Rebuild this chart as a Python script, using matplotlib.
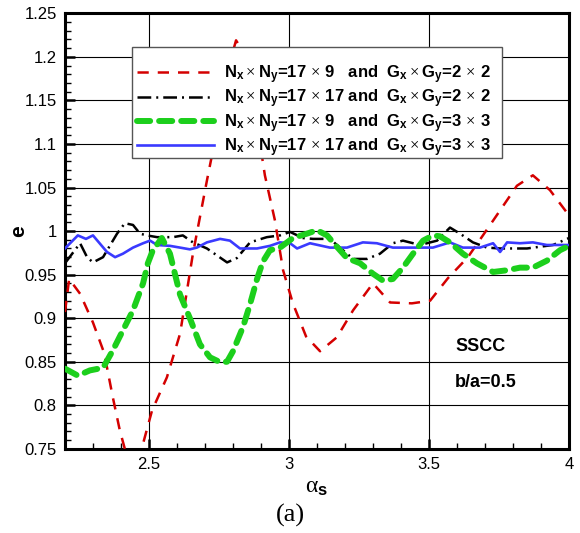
import matplotlib
matplotlib.use("Agg")
import matplotlib.pyplot as plt
from matplotlib.patches import Rectangle
from matplotlib.ticker import MultipleLocator, FormatStrFormatter

plt.rcParams['font.family'] = ['Liberation Sans', 'DejaVu Sans']
plt.rcParams['mathtext.fontset'] = 'custom'
plt.rcParams['mathtext.rm'] = 'Liberation Serif'
plt.rcParams['mathtext.bf'] = 'Liberation Sans:bold'
plt.rcParams['mathtext.it'] = 'Liberation Sans:italic'

# N=17x9, G=2x2
red_a = [2.200, 2.215, 2.254, 2.300, 2.340, 2.371, 2.396, 2.418, 2.450, 2.479,
         2.511, 2.564, 2.611, 2.636, 2.657, 2.707, 2.725, 2.771, 2.811, 2.843,
         2.889, 2.914, 2.950, 2.979, 3.014, 3.061, 3.111, 3.171, 3.229, 3.300,
         3.361, 3.439, 3.504, 3.568, 3.639, 3.729, 3.814, 3.871, 3.932, 3.993, 4.0]
red_e = [0.907, 0.945, 0.928, 0.895, 0.860, 0.809, 0.771, 0.745, 0.728, 0.756,
         0.794, 0.832, 0.882, 0.932, 0.974, 1.058, 1.087, 1.173, 1.219, 1.202,
         1.116, 1.064, 1.012, 0.955, 0.917, 0.879, 0.862, 0.878, 0.909, 0.940,
         0.918, 0.917, 0.920, 0.946, 0.970, 1.012, 1.052, 1.064, 1.047, 1.021, 1.015]

# N=17x17, G=2x2
blk_a = [2.200, 2.254, 2.279, 2.300, 2.336, 2.386, 2.414, 2.443, 2.468, 2.493,
         2.529, 2.586, 2.621, 2.657, 2.707, 2.779, 2.814, 2.861, 2.921, 2.968,
         3.004, 3.050, 3.086, 3.146, 3.193, 3.229, 3.279, 3.325, 3.371, 3.407,
         3.468, 3.529, 3.575, 3.611, 3.657, 3.707, 3.754, 3.850, 3.943, 4.0]
blk_e = [0.963, 0.986, 0.970, 0.964, 0.970, 0.997, 1.009, 1.007, 0.997, 0.995,
         0.993, 0.993, 0.995, 0.987, 0.980, 0.964, 0.969, 0.987, 0.993, 0.995,
         0.999, 0.992, 0.991, 0.991, 0.978, 0.968, 0.968, 0.974, 0.986, 0.989,
         0.984, 0.989, 1.004, 0.997, 0.987, 0.981, 0.980, 0.980, 0.984, 0.992]

# N=17x9, G=3x3
grn_a = [2.200, 2.246, 2.289, 2.336, 2.371, 2.407, 2.443, 2.479, 2.496, 2.514,
         2.546, 2.575, 2.611, 2.646, 2.682, 2.718, 2.757, 2.779, 2.800, 2.836,
         2.860, 2.886, 2.907, 2.932, 2.968, 3.014, 3.064, 3.100, 3.136, 3.171,
         3.207, 3.254, 3.300, 3.336, 3.371, 3.407, 3.443, 3.479, 3.514, 3.539,
         3.575, 3.621, 3.671, 3.729, 3.779, 3.825, 3.871, 3.921, 3.968, 4.0]
grn_e = [0.842, 0.834, 0.840, 0.843, 0.863, 0.886, 0.909, 0.940, 0.963, 0.978,
         0.992, 0.974, 0.927, 0.900, 0.870, 0.855, 0.849, 0.850, 0.862, 0.890,
         0.915, 0.945, 0.965, 0.978, 0.981, 0.992, 0.997, 1.001, 0.995, 0.982,
         0.969, 0.963, 0.951, 0.943, 0.945, 0.958, 0.974, 0.989, 0.995, 0.994,
         0.987, 0.974, 0.963, 0.953, 0.955, 0.958, 0.958, 0.966, 0.978, 0.983]

# N=17x17, G=3x3
blu_a = [2.200, 2.246, 2.275, 2.300, 2.350, 2.379, 2.407, 2.443, 2.479, 2.504,
         2.529, 2.575, 2.611, 2.646, 2.671, 2.707, 2.754, 2.789, 2.825, 2.886,
         2.932, 2.968, 3.004, 3.029, 3.075, 3.146, 3.207, 3.264, 3.314, 3.371,
         3.443, 3.514, 3.575, 3.621, 3.682, 3.729, 3.754, 3.779, 3.825, 3.871,
         3.921, 4.0]
blu_e = [0.980, 0.995, 0.991, 0.995, 0.976, 0.970, 0.974, 0.981, 0.986, 0.989,
         0.984, 0.983, 0.981, 0.979, 0.981, 0.987, 0.991, 0.989, 0.980, 0.980,
         0.983, 0.987, 0.986, 0.980, 0.986, 0.981, 0.981, 0.987, 0.986, 0.981,
         0.981, 0.981, 0.987, 0.981, 0.981, 0.986, 0.976, 0.987, 0.986, 0.987,
         0.984, 0.984]

labels = [
    r"$\mathbf{N_x}\times\mathbf{N_y}$=17$\,\times\,$9   and  $\mathbf{G_x}\times\mathbf{G_y}$=2$\,\times\,$2",
    r"$\mathbf{N_x}\times\mathbf{N_y}$=17$\,\times\,$17 and  $\mathbf{G_x}\times\mathbf{G_y}$=2$\,\times\,$2",
    r"$\mathbf{N_x}\times\mathbf{N_y}$=17$\,\times\,$9   and  $\mathbf{G_x}\times\mathbf{G_y}$=3$\,\times\,$3",
    r"$\mathbf{N_x}\times\mathbf{N_y}$=17$\,\times\,$17 and  $\mathbf{G_x}\times\mathbf{G_y}$=3$\,\times\,$3",
]

fig = plt.figure(figsize=(5.8, 5.33), dpi=100)
ax = fig.add_axes([0.112, 0.158, 0.869, 0.817])

ax.plot(red_a, red_e, color='#d40000', lw=1.8, dashes=(4.5, 3.6), label=labels[0], zorder=3)
ax.plot(blk_a, blk_e, color='black', lw=1.8, dashes=(5.5, 2, 0.8, 2), label=labels[1], zorder=4)
ax.plot(grn_a, grn_e, color='#1ccf1c', lw=4.3, dashes=(2.2, 1.5), dash_capstyle='round',
        label=labels[2], zorder=6)
ax.plot(blu_a, blu_e, color='#3a3aff', lw=1.9, label=labels[3], zorder=5)

ax.set_xlim(2.2, 4.0)
ax.set_ylim(0.75, 1.25)
ax.xaxis.set_major_locator(MultipleLocator(0.5))
ax.xaxis.set_minor_locator(MultipleLocator(0.1))
ax.yaxis.set_major_locator(MultipleLocator(0.05))
ax.yaxis.set_minor_locator(MultipleLocator(0.01))
ax.yaxis.set_major_formatter(FormatStrFormatter('%g'))
ax.xaxis.set_major_formatter(FormatStrFormatter('%g'))
ax.grid(True, which='major', color='black', lw=0.8, zorder=1)
ax.set_axisbelow(True)

ax.tick_params(which='both', direction='in', top=False, right=False, labelsize=12)
ax.tick_params(which='major', length=7, width=1.8, pad=6)
ax.tick_params(which='minor', length=4, width=1.0)
for s in ax.spines.values():
    s.set_linewidth(2.2)

ax.set_ylabel('e', fontsize=15, fontweight='bold', labelpad=-3)
ax.set_xlabel(r'$\mathrm{\alpha}_\mathbf{s}$', fontsize=17, labelpad=3)

ax.text(3.593, 0.867, 'SSCC', fontsize=13, fontweight='bold', va='center')
ax.text(3.593, 0.826, 'b/a=0.5', fontsize=13, fontweight='bold', va='center')

# legend box drawn separately (taller padding on top, like the original)
box = Rectangle((0.133, 0.668), 0.734, 0.255, transform=ax.transAxes,
                facecolor='white', edgecolor='#555555', lw=1.0, zorder=9)
ax.add_patch(box)
leg = ax.legend(loc='upper left', bbox_to_anchor=(0.143, 0.885), borderaxespad=0,
                prop={'size': 12, 'weight': 'bold'}, handlelength=4.6, handletextpad=0.6,
                labelspacing=0.1, frameon=False, borderpad=0)
leg.set_zorder(10)

fig.text(0.5, 0.032, '(a)', fontsize=19, family='Liberation Serif', ha='center', va='center')

plt.savefig('out.png', dpi=100)
plt.close()
